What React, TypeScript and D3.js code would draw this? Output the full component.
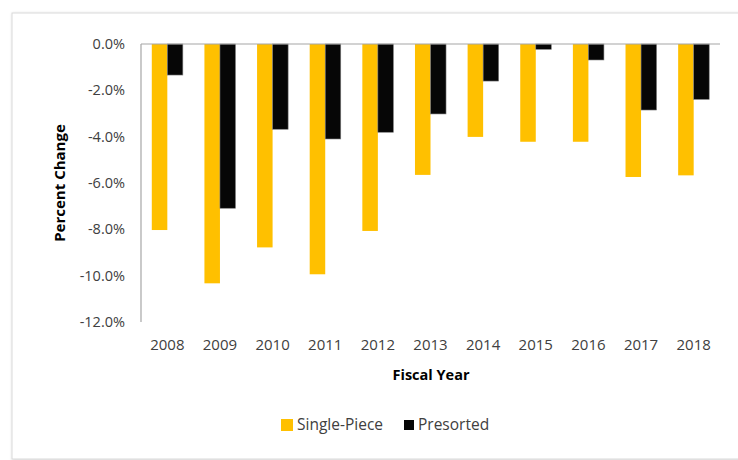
import React from "react";
import * as d3 from "d3";

const years = ["2008","2009","2010","2011","2012","2013","2014","2015","2016","2017","2018"];
const singlePiece = [-8.03,-10.33,-8.78,-9.94,-8.07,-5.65,-4.01,-4.22,-4.22,-5.74,-5.67];
const presorted = [-1.34,-7.09,-3.68,-4.10,-3.81,-3.02,-1.60,-0.23,-0.69,-2.85,-2.39];
const yTicks = [0,-2,-4,-6,-8,-10,-12];
const seriesNames = ["Single-Piece","Presorted"];
const seriesColors = ["#FFC000","#060606"];

const W = 738, H = 460;
const plot = { left: 141, right: 720, top: 44, bottom: 322 };
const font = "'Open Sans', sans-serif";
const textColor = "#404040";

export default function App() {
  const x = d3.scaleBand<string>().domain(years).range([plot.left, plot.right]).paddingInner(0.41).paddingOuter(0.205);
  const inner = d3.scaleBand<number>().domain([0,1]).range([0, x.bandwidth()]);
  const y = d3.scaleLinear().domain([0,-12]).range([plot.top, plot.bottom]);
  const series = [singlePiece, presorted];
  const fmt = (t: number) => d3.format(".1f")(t).replace("\u2212", "-") + "%";
  return (
    <svg width={W} height={H} style={{ position: "absolute", left: 0, top: 0, background: "#fff" }}>
      <defs>
        <filter id="sh" x="-5%" y="-5%" width="110%" height="110%">
          <feDropShadow dx="1" dy="1" stdDeviation="1.5" floodColor="#000" floodOpacity="0.25" />
        </filter>
      </defs>
      <rect x={12} y={13} width={W + 20} height={446} fill="#fff" stroke="#d9d9d9" strokeWidth={1} filter="url(#sh)" />
      {series.map((vals, si) => (
        <g key={si}>
          {vals.map((v, i) => (
            <rect key={i}
              x={(x(years[i]) as number) + (inner(si) as number)}
              y={y(0)}
              width={inner.bandwidth()}
              height={y(v) - y(0)}
              fill={seriesColors[si]}
              stroke={si === 1 ? "#7f7f7f" : "none"}
              strokeWidth={si === 1 ? 0.6 : 0} />
          ))}
        </g>
      ))}
      <line x1={plot.left} x2={plot.right} y1={y(0)} y2={y(0)} stroke="#a6a6a6" strokeWidth={1.2} />
      <line x1={plot.left} x2={plot.left} y1={y(0)} y2={y(-12)} stroke="#a6a6a6" strokeWidth={1.2} />
      {yTicks.map(t => (
        <text key={t} x={125} y={y(t)} dy="0.35em" textAnchor="end" fontFamily={font} fontSize={14.5} fill={textColor}>
          {fmt(t)}
        </text>
      ))}
      {years.map(yr => (
        <text key={yr} x={(x(yr) as number) + x.bandwidth() / 2} y={345} dy="0.35em" textAnchor="middle" fontFamily={font} fontSize={15} fill={textColor}>
          {yr}
        </text>
      ))}
      <text x={431} y={375} dy="0.35em" textAnchor="middle" fontFamily={font} fontSize={14.5} fontWeight="bold" fill="#000">Fiscal Year</text>
      <text transform={`translate(60,183) rotate(-90)`} dy="0.35em" textAnchor="middle" fontFamily={font} fontSize={15} fontWeight="bold" fill="#000">Percent Change</text>
      <rect x={281} y={419} width={12} height={12} fill={seriesColors[0]} />
      <text x={297} y={425} dy="0.35em" fontFamily={font} fontSize={15.5} fill={textColor}>{seriesNames[0]}</text>
      <rect x={404} y={420} width={10} height={10} fill={seriesColors[1]} />
      <text x={418} y={425} dy="0.35em" fontFamily={font} fontSize={15.5} fill={textColor}>{seriesNames[1]}</text>
    </svg>
  );
}
